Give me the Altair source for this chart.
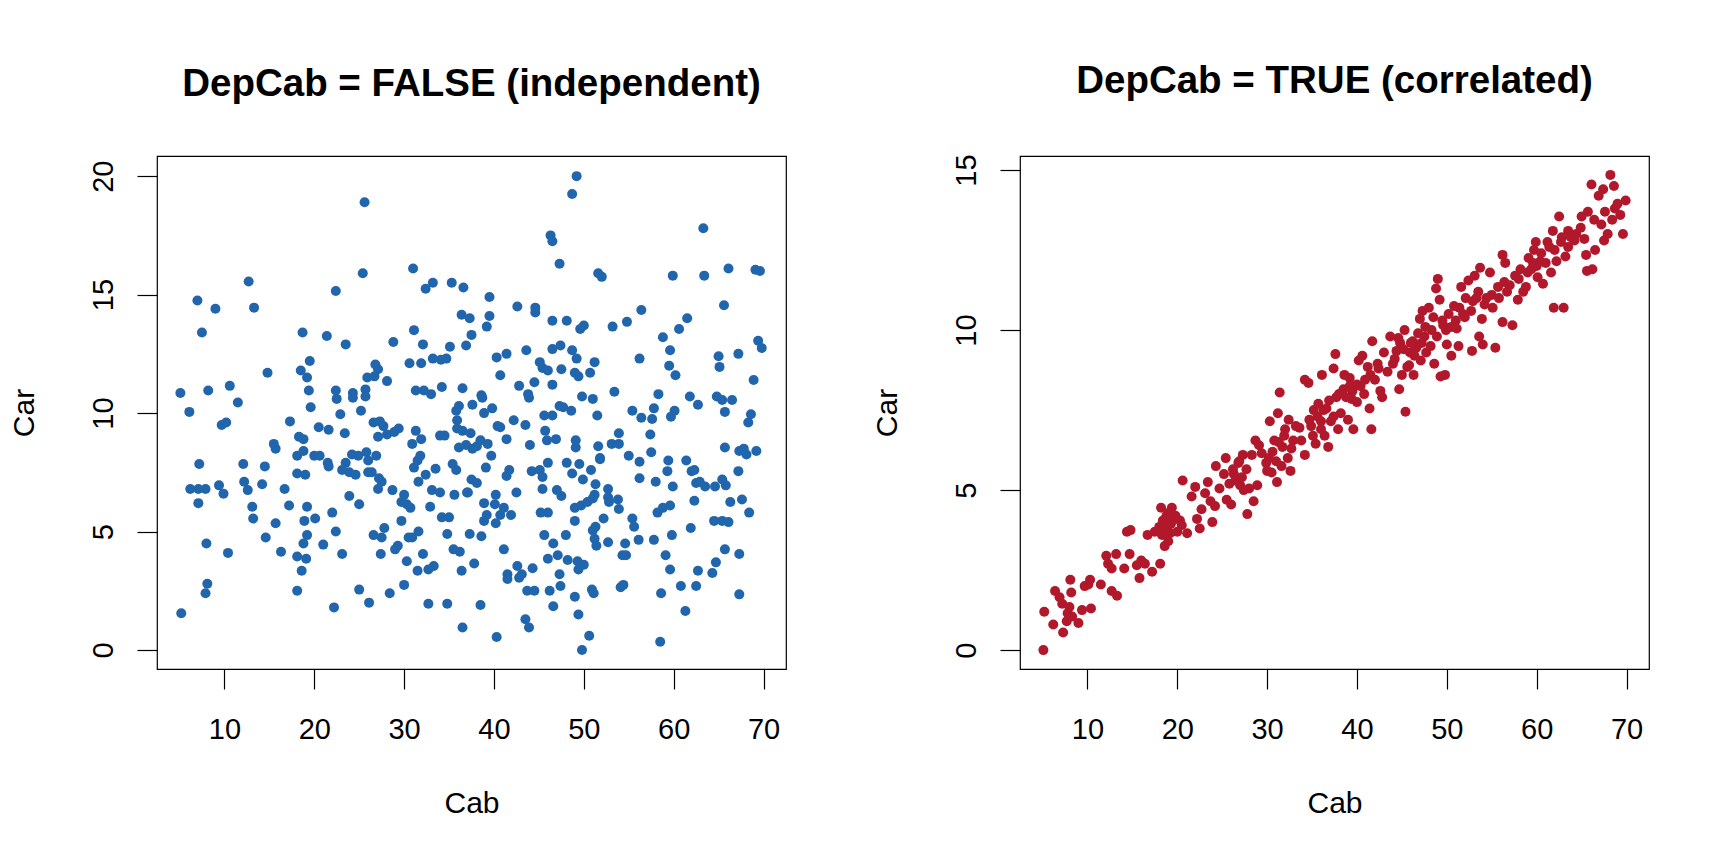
import altair as alt
import pandas as pd

# ---------------- Left panel: DepCab = FALSE (independent) ----------------
cab_indep = [
49.2,48.7,25.6,63.3,46.3,46.5,47.3,31.0,25.4,51.6,52.0,59.9,63.4,66.1,69.1,69.6,12.7,22.4,32.4,33.2,
35.3,36.6,7.0,9.0,13.3,39.5,42.6,44.6,44.6,36.4,37.3,39.5,39.2,37.5,46.5,48.1,56.4,61.5,65.6,54.8,
49.6,50.0,53.2,60.6,58.8,7.5,18.7,21.4,31.1,23.5,28.8,32.1,35.1,36.9,46.5,47.4,48.7,49.2,51.2,43.6,
41.4,40.3,45.1,45.4,46.0,47.5,49.0,49.4,50.7,56.2,59.6,59.5,60.2,65.0,65.1,67.2,69.4,69.8,19.5,33.2,
34.1,34.7,30.6,31.9,26.8,27.1,25.9,26.7,28.1,18.5,19.2,14.8,40.7,46.5,5.1,8.2,10.6,11.5,6.1,9.7,
10.2,19.4,19.6,22.4,22.5,24.3,24.3,25.7,25.7,25.2,31.3,32.2,33.0,34.2,36.5,38.6,38.7,37.6,35.8,36.1,
39.8,38.9,42.8,43.8,43.9,44.5,49.8,51.0,51.5,53.4,47.3,47.7,48.6,46.5,45.6,55.4,57.8,58.3,60.1,59.7,
61.8,62.7,65.4,64.8,66.5,65.7,68.6,68.9,68.3,56.4,57.6,15.5,15.7,17.3,20.5,21.6,22.9,23.4,18.3,18.8,
27.3,26.6,27.7,28.1,27.1,28.9,29.4,31.3,31.9,30.9,34.0,34.5,35.9,35.9,36.5,37.4,36.1,36.9,37.6,38.1,
38.5,39.3,39.7,40.4,40.7,41.4,42.2,43.5,44.0,45.7,45.9,46.9,49.1,49.1,51.6,51.8,53.1,53.9,53.9,55.0,
56.2,57.5,57.4,59.4,61.4,62.3,65.7,67.3,68.1,69.2,67.8,67.2,7.2,12.1,14.5,20.0,20.6,21.5,21.6,18.1,
18.8,24.2,23.5,23.1,23.9,24.6,25.8,26.0,26.9,26.0,26.4,27.2,27.5,27.1,31.1,31.5,31.8,32.4,33.5,31.6,
33.1,34.0,35.4,35.8,37.5,38.1,37.0,39.1,41.4,41.7,44.2,45.1,45.4,46.0,45.4,47.0,47.5,48.1,48.7,49.5,
49.9,50.8,51.3,51.8,52.7,52.7,52.8,53.8,53.9,56.2,58.0,59.3,59.9,62.0,62.5,62.9,63.5,64.6,65.8,65.4,
66.3,67.6,68.4,65.4,66.1,64.5,61.9,62.3,58.8,59.6,58.2,55.4,55.6,56.1,59.8,57.8,59.1,59.6,60.8,58.6,
61.3,58.5,62.5,62.7,64.3,64.7,65.7,67.3,67.3,54.6,54.3,54.7,54.1,54.4,52.7,52.2,51.3,51.0,51.2,51.4,
50.9,51.1,50.6,49.8,49.4,49.0,49.3,49.4,50.0,48.2,47.3,47.1,46.6,46.0,46.2,46.6,47.4,48.0,49.0,49.0,
49.7,50.4,51.0,51.2,45.6,45.2,46.0,44.5,44.3,43.7,43.5,43.9,43.1,42.6,42.8,41.5,41.5,41.1,40.3,40.2,
40.7,41.1,41.9,42.5,40.2,40.1,39.2,38.9,38.9,38.6,38.5,37.8,37.3,37.1,36.4,36.5,36.2,35.5,35.0,34.2,
34.8,34.8,35.6,33.3,32.7,32.7,32.1,31.5,31.6,30.3,30.5,30.7,30.9,30.0,29.3,29.0,29.7,30.0,29.7,30.3,
32.9,28.7,28.4,27.8,27.5,27.4,26.6,26.1,25.0,25.0,24.9,23.9,23.1,22.4,22.0,22.2,21.0,20.1,19.2,18.9,
19.2,18.8,18.6,19.1,18.1,18.1,18.1,19.0,17.2,16.7,16.3,15.7,14.6,14.2,13.1,13.2,12.6,12.2,10.4,9.9,
9.4,7.9,7.1,6.2,7.1,8.0,8.1,7.9,5.2]
car_indep = [
20.0,19.25,18.9,17.8,17.5,17.25,16.3,16.1,15.9,15.9,15.75,15.8,15.8,16.1,16.05,16.0,15.55,15.15,15.25,15.5,
15.5,15.3,14.75,14.4,14.45,14.9,14.5,14.45,14.25,14.15,14.0,14.1,13.65,13.3,13.9,13.9,14.35,14.0,14.55,13.85,
13.55,13.7,13.65,13.55,13.2,13.4,13.4,13.25,13.5,12.9,13.0,12.9,12.8,12.85,12.7,12.85,12.65,12.3,12.15,12.65,
12.5,12.35,12.15,11.9,11.8,11.85,11.7,11.55,11.7,12.3,12.65,12.0,11.6,12.4,11.95,12.5,13.05,12.75,12.2,12.3,
12.25,12.3,12.1,12.1,12.05,11.85,11.5,11.55,11.35,11.8,11.5,11.7,11.6,11.2,10.85,10.95,11.15,10.45,10.05,9.5,
9.6,10.95,10.25,10.95,10.6,10.85,10.65,11.0,10.7,10.1,10.95,10.95,10.8,11.1,11.05,10.75,10.65,10.35,10.1,10.3,
10.2,10.0,11.15,10.8,10.65,11.3,10.7,10.6,9.9,10.9,10.3,10.25,10.1,9.9,9.9,10.1,10.2,10.8,10.1,9.85,
10.7,10.35,10.55,10.7,10.55,10.05,9.95,11.4,9.6,9.8,9.75,8.7,8.5,9.65,9.4,9.3,9.95,9.15,9.0,8.9,
9.65,9.6,9.45,9.1,9.0,9.2,9.35,9.25,8.9,8.7,9.05,9.05,9.7,9.35,9.25,9.15,8.55,8.65,8.5,8.6,
8.85,8.7,8.2,9.45,9.4,8.9,9.7,9.5,8.65,9.25,8.85,8.9,8.85,8.55,8.6,8.1,8.7,8.7,9.15,8.2,
7.95,8.35,9.1,8.0,8.0,7.6,8.55,8.4,8.25,8.4,8.5,7.55,7.85,7.85,7.75,8.2,8.2,7.9,7.75,8.2,
8.4,8.25,7.9,7.6,7.5,7.4,8.35,8.0,8.2,7.5,7.5,7.25,7.1,6.8,7.7,8.0,8.2,7.4,7.65,7.1,
6.75,6.65,7.85,7.6,7.2,7.05,6.65,7.7,7.35,7.6,7.55,7.6,7.3,7.9,6.8,6.75,6.5,7.9,7.45,7.85,
7.2,7.6,7.0,8.05,6.8,6.45,6.25,6.35,5.95,7.25,7.1,7.55,6.9,7.55,7.05,7.1,6.9,6.9,6.95,7.2,
6.25,6.35,5.8,5.45,5.4,5.45,5.15,6.3,6.0,6.1,5.8,5.55,5.2,4.65,4.85,4.65,4.0,3.4,2.7,2.4,
1.65,0.35,2.7,3.35,3.25,3.7,4.25,4.05,2.35,4.5,4.0,4.0,2.65,2.75,4.55,5.55,5.2,5.05,4.7,4.4,
2.55,2.4,0.6,0.0,1.5,2.25,3.75,3.4,3.6,3.8,3.2,4.0,4.5,3.85,2.5,1.85,2.7,4.85,5.45,6.0,
6.1,6.25,6.4,6.55,4.85,5.8,5.8,2.5,3.45,2.5,1.3,0.95,3.2,3.55,3.05,3.2,3.0,4.25,0.55,5.35,
5.7,6.0,5.7,6.65,6.55,6.15,5.7,5.45,6.2,4.8,1.9,3.65,4.9,6.65,3.35,0.95,4.15,4.25,5.6,5.6,
4.9,1.95,6.55,3.55,3.4,1.95,4.05,3.35,5.0,3.75,4.75,6.0,4.75,2.75,4.4,4.25,5.45,6.55,6.25,6.15,
6.05,6.75,2.4,5.15,4.75,4.05,4.85,2.0,2.55,6.15,8.2,6.5,4.05,5.0,5.8,1.8,4.45,5.55,6.05,5.45,
4.85,4.5,3.35,3.85,3.95,2.5,7.45,7.4,6.1,6.8,4.15,5.35,4.75,7.0,6.05,5.55,6.75,7.1,4.1,6.6,
6.95,6.8,6.8,6.8,6.2,4.5,2.8,2.4,1.55]

# ---------------- Right panel: DepCab = TRUE (correlated) ----------------
cab_corr = [
5.1,5.2,6.2,6.4,6.9,7.2,7.3,7.7,7.8,8.0,8.1,8.2,8.3,9.0,9.4,9.7,10.1,10.3,10.4,11.5,
12.1,12.3,12.7,12.7,13.2,13.3,14.1,14.4,14.8,14.7,15.5,15.8,16.0,16.4,16.7,17.2,17.5,18.1,18.0,18.2,
18.4,18.6,18.9,19.1,19.4,19.2,19.6,20.0,20.3,20.6,21.1,21.6,22.0,22.2,22.5,22.7,23.1,23.4,23.7,23.9,
24.2,24.3,24.7,25.2,25.4,25.5,26.0,26.2,26.5,26.8,27.0,27.3,27.4,27.7,27.8,28.0,28.5,28.7,28.9,29.1,
29.4,29.9,30.2,30.3,30.5,30.8,31.1,31.2,31.4,31.6,31.7,32.0,32.3,32.4,32.6,32.9,33.6,33.8,34.2,34.2,
34.6,34.7,35.1,35.4,35.7,36.0,36.1,36.4,36.6,36.8,37.1,37.4,37.6,37.7,37.9,38.2,38.5,38.6,39.0,39.2,
39.4,39.6,40.0,40.2,40.4,40.6,40.9,41.2,41.4,41.6,41.7,42.0,42.3,42.6,42.8,43.0,43.4,43.7,44.0,44.4,
44.6,44.7,45.0,45.3,45.4,45.6,45.9,46.2,46.3,46.6,47.0,47.1,47.3,47.5,47.7,48.0,48.3,48.6,48.8,49.0,
49.2,49.3,49.6,49.8,50.0,50.2,50.5,50.8,51.1,51.3,51.6,51.8,52.1,52.4,52.7,52.8,53.1,53.3,53.6,53.7,
53.9,54.0,54.4,54.8,55.1,55.4,55.7,56.2,56.2,56.5,56.7,57.3,57.6,57.9,58.2,58.5,58.8,59.1,59.4,59.7,
59.9,60.1,60.4,60.7,61.2,61.6,61.8,61.9,62.2,62.5,62.7,63.0,63.2,63.5,63.8,64.4,64.9,65.0,65.3,65.5,
65.6,65.7,66.1,66.2,66.4,66.5,66.9,67.2,67.4,67.5,67.6,67.9,68.2,68.4,68.6,68.7,69.0,69.3,69.6,69.9,
18.5,18.8,19.3,19.8,18.3,19.0,20.5,26.3,27.2,25.8,26.9,28.3,30.6,31.3,31.9,32.7,33.2,30.0,31.0,34.9,
35.6,36.3,36.9,37.4,35.2,36.0,38.0,38.8,39.5,40.0,40.8,41.5,39.2,42.4,44.2,45.2,46.0,46.8,47.6,48.2,
48.9,49.5,46.4,47.2,45.8,44.8,48.5,49.9,50.5,51.4,52.0,52.9,53.5,54.2,55.0,55.8,56.4,51.0,57.0,58.0,
59.0,59.6,60.5,61.0,61.4,62.0,62.8,60.0,63.5,64.2]
car_corr = [
0.0,1.2,0.8,1.85,1.65,1.45,0.55,0.9,1.15,1.35,2.2,1.8,1.05,0.85,1.25,2.0,2.05,2.2,1.3,2.05,
2.95,2.7,2.55,1.85,3.0,1.7,2.55,3.7,3.75,3.0,2.65,2.25,2.8,2.7,3.6,2.45,3.7,2.7,3.85,4.45,
4.05,3.25,3.8,4.3,4.45,3.65,4.1,3.7,4.05,5.3,3.65,4.8,5.1,4.1,3.8,4.4,4.9,5.25,4.65,4.0,
4.5,5.75,5.05,5.5,6.0,4.7,4.55,5.65,5.3,5.85,5.15,6.1,5.0,5.65,4.25,5.05,4.65,6.55,5.15,6.4,
6.15,5.85,6.0,7.15,5.55,6.55,5.25,7.4,8.05,5.75,6.35,6.9,6.0,7.2,5.6,6.55,6.95,6.55,6.1,8.45,
8.35,7.2,6.7,6.45,7.7,7.15,8.6,6.7,7.55,6.35,7.15,8.8,9.25,7.9,6.9,7.4,8.15,8.6,7.2,8.25,
7.85,6.9,7.75,9.05,8.25,9.2,8.45,8.85,7.55,6.9,9.65,8.45,8.95,8.1,7.9,9.3,8.7,9.8,8.95,9.35,
9.75,8.15,8.6,10.0,7.45,8.85,9.3,9.65,8.6,9.45,10.35,9.05,10.6,9.8,9.3,10.7,10.0,8.95,11.3,11.6,
10.95,8.55,10.15,8.6,9.55,10.5,9.2,10.75,10.05,9.5,11.35,10.5,11.0,11.55,10.6,9.35,11.7,11.0,9.8,11.95,
10.35,9.55,11.0,11.8,10.7,9.45,11.35,12.35,10.25,12.1,11.2,10.15,11.7,10.95,11.9,11.2,11.35,12.25,11.9,12.5,
12.75,11.65,12.15,11.45,12.75,11.8,13.1,10.7,12.15,13.55,12.75,10.7,12.3,13.1,12.9,13.0,13.2,13.55,12.85,12.35,
11.85,13.7,14.55,11.9,13.45,12.5,14.2,13.3,14.4,12.8,13.7,13.0,14.85,13.45,14.5,13.8,13.95,13.6,13.0,14.05,
3.9,4.2,3.95,4.2,3.6,3.4,3.9,5.5,5.4,5.2,5.9,6.1,6.2,6.5,6.7,6.3,7.0,5.6,5.9,7.0,
7.3,7.5,7.8,7.3,7.5,6.9,8.0,7.9,8.1,8.3,8.0,8.6,8.5,8.8,9.1,9.4,9.6,9.9,10.1,9.5,
9.8,10.3,9.2,9.6,8.9,9.6,10.4,10.0,10.1,10.7,10.4,10.9,11.2,10.8,11.1,11.0,11.5,10.3,11.4,11.6,
11.8,12.1,12.4,12.1,12.6,12.5,12.9,12.0,12.6,12.8]

x_ticks = [10, 20, 30, 40, 50, 60, 70]
y_ticks_indep = [0, 5, 10, 15, 20]
y_ticks_corr = [0, 5, 10, 15]

df_indep = pd.DataFrame({"Cab": cab_indep, "Car": car_indep})
df_corr = pd.DataFrame({"Cab": cab_corr, "Car": car_corr})

FONT = "Liberation Sans"


def panel(df, color, title, ydom, yticks):
    return alt.Chart(df).mark_circle(size=100, opacity=1, color=color).encode(
        x=alt.X("Cab:Q",
                scale=alt.Scale(domain=[2.5, 72.5], nice=False, zero=False),
                axis=alt.Axis(values=x_ticks, title="Cab", format="d",
                              labelPadding=26, titlePadding=44)),
        y=alt.Y("Car:Q",
                scale=alt.Scale(domain=ydom, nice=False, zero=False),
                axis=alt.Axis(values=yticks, title="Car", format="d",
                              labelAngle=-90, labelAlign="center",
                              labelBaseline="bottom",
                              labelPadding=19, titlePadding=50)),
    ).properties(
        width=629, height=513,
        title=alt.Title(title, font=FONT, fontSize=38.5, fontWeight="bold",
                        color="black", offset=52, anchor="middle"),
    )


left = panel(df_indep, "#2166AC", "DepCab = FALSE (independent)",
             [-0.8, 20.85], y_ticks_indep)
right = panel(df_corr, "#B2182B", "DepCab = TRUE (correlated)",
              [-0.59, 15.44], y_ticks_corr)

chart = alt.hconcat(left, right, spacing=84).properties(
    padding={"left": 0, "top": 53, "right": 5, "bottom": 5},
    background="white",
).configure_view(
    stroke="black", strokeWidth=1.2, fill="white"
).configure_axis(
    grid=False, domain=False, ticks=True, tickColor="black", tickWidth=1.2,
    tickSize=20, labelFont=FONT, labelFontSize=29, labelColor="black",
    titleFont=FONT, titleFontSize=30, titleFontWeight="normal",
    titleColor="black", labelOverlap=False, labelFlush=False,
)

chart.save("out.html", embed_options={"renderer": "svg", "actions": False})
